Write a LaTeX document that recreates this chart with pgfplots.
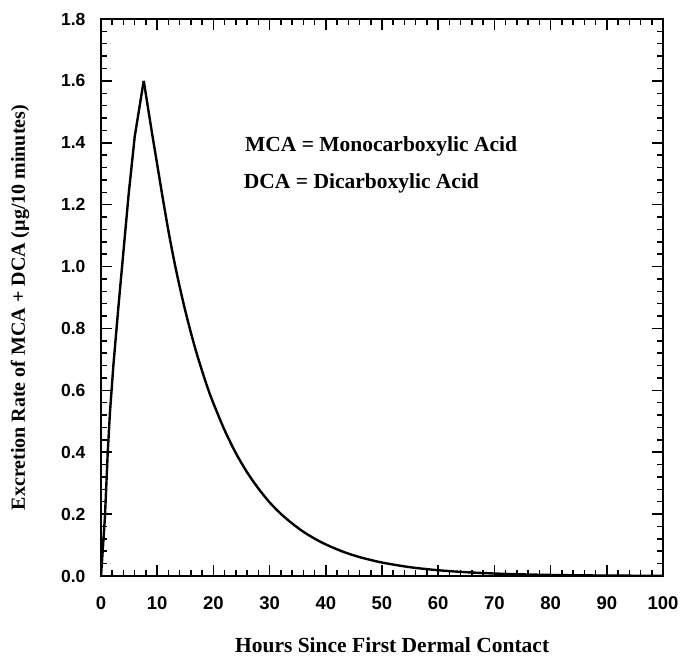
\documentclass[border=0pt]{standalone}
\usepackage{pgfplots}
\pgfplotsset{compat=1.18}
\usepackage{fontspec}
\setmainfont{Liberation Serif}
\newfontfamily\arialf{Liberation Sans}
\begin{document}
\begin{tikzpicture}
\path[use as bounding box] (-101pt,-82pt) rectangle (580pt,576pt);
\begin{axis}[
  at={(0,0)}, anchor=south west,
  scale only axis, width=562pt, height=557pt,
  xmin=0, xmax=100, ymin=0, ymax=1.8,
  xtick={0,10,...,100}, ytick={0,0.2,...,1.8},
  minor x tick num=4, minor y tick num=4,
  tick align=inside, tick pos=both,
  major tick length=11pt, minor tick length=6pt,
  tick style={line width=1.5pt, black},
  axis line style={line width=1.8pt},
  /pgf/number format/assume math mode=true,
  yticklabel style={/pgf/number format/fixed, /pgf/number format/fixed zerofill, /pgf/number format/precision=1, font=\arialf\bfseries\fontsize{17.5}{20}\selectfont, xshift=-12pt},
  xticklabel style={font=\arialf\bfseries\fontsize{18.5}{20}\selectfont, yshift=-17pt},
  xlabel={\textbf{Hours Since First Dermal Contact}},
  ylabel={\textbf{Excretion Rate of MCA + DCA (µg/10 minutes)}},
  xlabel style={font=\fontsize{21.5}{24}\selectfont, at={(rel axis cs:0.518,0)}, anchor=base, yshift=-77pt},
  ylabel style={font=\fontsize{20}{24}\selectfont, at={(rel axis cs:0,0.482)}, anchor=center, yshift=81pt},
  clip=true,
]
\addplot[line width=2.4pt, black, line join=miter] coordinates {
(0,0) (0.3,0.08) (0.7,0.19) (1.2,0.40) (1.6,0.53) (2.2,0.68) (3.1,0.87) (4.2,1.09) (4.9,1.23) (6.0,1.42) (6.8,1.51) (7.6,1.60)
};
\addplot[line width=2.4pt, black, smooth, tension=0.5] coordinates {
(7.6,1.60) (8,1.555) (9,1.440) (10,1.330) (11,1.220) (12,1.115) (13,1.020) (14,0.935) (15,0.857) (16,0.786) (17,0.721) (18,0.662) (19,0.607) (20,0.558) (22,0.471) (24,0.397) (26,0.335) (28,0.283) (30,0.238) (32,0.201) (34,0.170) (36,0.143) (38,0.121) (40,0.102) (43,0.0789) (46,0.0611) (50,0.0435) (55,0.0284) (60,0.0186) (65,0.0122) (70,0.0080) (75,0.0052) (80,0.0034) (85,0.0022) (90,0.0014) (95,0.0009) (100,0.0006)
};
\node[anchor=west, font=\bfseries\fontsize{21.5}{24}\selectfont, inner sep=0pt] at (axis cs:25.6,1.387) {MCA = Monocarboxylic Acid};
\node[anchor=west, font=\bfseries\fontsize{21.5}{24}\selectfont, inner sep=0pt] at (axis cs:25.4,1.27) {DCA = Dicarboxylic Acid};
\end{axis}
\end{tikzpicture}
\end{document}
